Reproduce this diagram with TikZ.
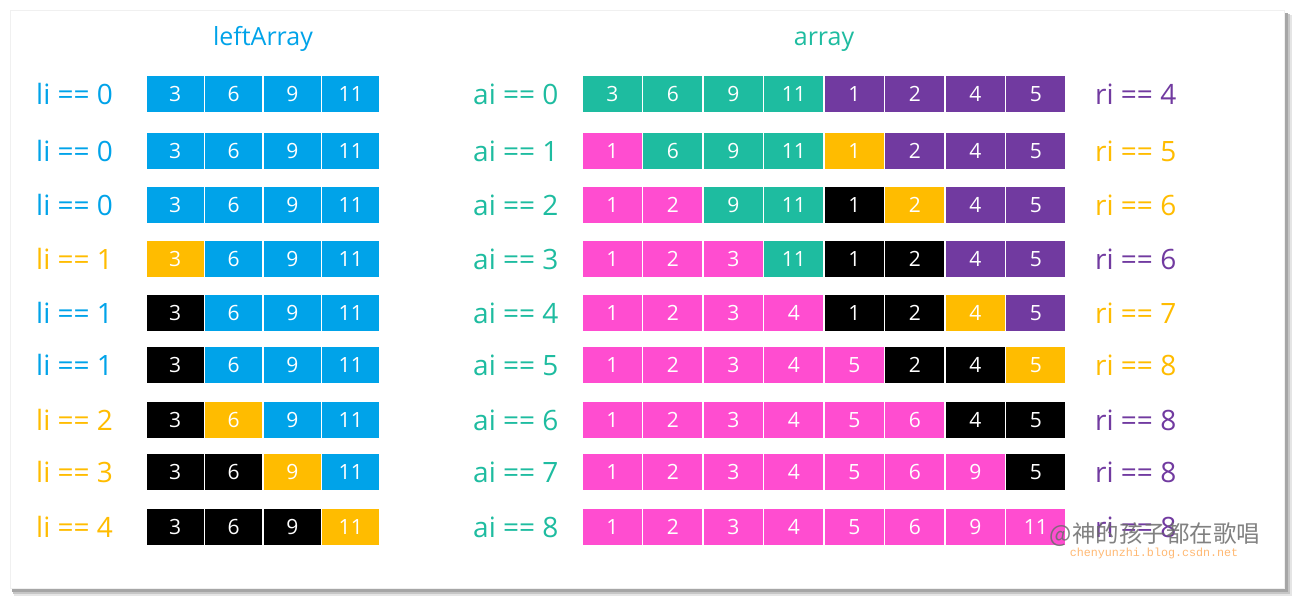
\documentclass[tikz,border=0pt]{standalone}
\usepackage{fontspec}
\setmainfont{Open Sans}
\newfontfamily\cjk{Noto Sans CJK SC}
\newfontfamily\wmmono{Liberation Mono}
\definecolor{cB}{RGB}{0,163,233}
\definecolor{cT}{RGB}{30,188,160}
\definecolor{cP}{RGB}{113,58,160}
\definecolor{cY}{RGB}{255,188,0}
\definecolor{cK}{RGB}{255,77,208}
\definecolor{cN}{RGB}{0,0,0}
\tikzset{
    cell/.style={draw=white, line width=1.3pt, fill=#1, minimum width=58.5pt, minimum height=38pt,
        inner sep=0pt, text=white, font=\fontsize{21}{21}\selectfont},
    acell/.style={cell=#1, minimum width=60.5pt},
    tag/.style={anchor=west, inner sep=0pt, text=#1, font=\fontsize{28}{28}\selectfont},
    title/.style={anchor=base, text=#1, font=\fontsize{25}{25}\selectfont}
}
\begin{document}
\begin{tikzpicture}[x=1pt, y=-1pt]
                \useasboundingbox (0, 0) rectangle (1295, 600);

                \fill[gray!20] (14, 15) rectangle (1292, 596);
                \fill[gray!45] (13, 14) rectangle (1290, 594);
                \fill[gray!70] (12, 13) rectangle (1288, 592);
                \fill[white, draw=gray!12] (10, 10) rectangle (1284, 588);

                \node[title=cB] (lefttitle) at (263, 45) {leftArray};
                \node[title=cT] (arraytitle) at (824, 45) {array};

                \foreach \r/\y/\lv/\lc/\row in {
                    0/94/0/B/{3/B,6/B,9/B,11/B},
                    1/151/0/B/{3/B,6/B,9/B,11/B},
                    2/205/0/B/{3/B,6/B,9/B,11/B},
                    3/259/1/Y/{3/Y,6/B,9/B,11/B},
                    4/313/1/B/{3/N,6/B,9/B,11/B},
                    5/365/1/B/{3/N,6/B,9/B,11/B},
                    6/420/2/Y/{3/N,6/Y,9/B,11/B},
                    7/472/3/Y/{3/N,6/N,9/Y,11/B},
                    8/527/4/Y/{3/N,6/N,9/N,11/Y}}
                {
                    \node[tag=c\lc] (li\r) at (36, \y) {li == \lv};
                    \foreach \v/\c [count=\i] in \row
                        \node[cell=c\c] (L\r-\i) at ({146+58.5*(\i-0.5)}, \y) {\v};
                }

                \foreach \r/\y/\rv/\rc/\row in {
                    0/94/4/P/{3/T,6/T,9/T,11/T,1/P,2/P,4/P,5/P},
                    1/151/5/Y/{1/K,6/T,9/T,11/T,1/Y,2/P,4/P,5/P},
                    2/205/6/Y/{1/K,2/K,9/T,11/T,1/N,2/Y,4/P,5/P},
                    3/259/6/P/{1/K,2/K,3/K,11/T,1/N,2/N,4/P,5/P},
                    4/313/7/Y/{1/K,2/K,3/K,4/K,1/N,2/N,4/Y,5/P},
                    5/365/8/Y/{1/K,2/K,3/K,4/K,5/K,2/N,4/N,5/Y},
                    6/420/8/P/{1/K,2/K,3/K,4/K,5/K,6/K,4/N,5/N},
                    7/472/8/P/{1/K,2/K,3/K,4/K,5/K,6/K,9/K,5/N},
                    8/527/8/P/{1/K,2/K,3/K,4/K,5/K,6/K,9/K,11/K}}
                {
                    \node[tag=cT] (ai\r) at (473, \y) {ai == \r};
                    \node[tag=c\rc] (ri\r) at (1095, \y) {ri == \rv};
                    \foreach \v/\c [count=\i] in \row
                        \node[acell=c\c] (A\r-\i) at ({582+60.5*(\i-0.5)}, \y) {\v};
                }

                \node[text=gray!85!black, opacity=0.85, font=\cjk\fontsize{23.5}{24}\selectfont] (mark) at (1155, 535) {@神的孩子都在歌唱};
                \node[text=orange!55, font=\wmmono\fontsize{11.7}{12}\selectfont, inner sep=0pt] (site) at (1154, 553) {chenyunzhi.blog.csdn.net};
            \end{tikzpicture}
\end{document}
